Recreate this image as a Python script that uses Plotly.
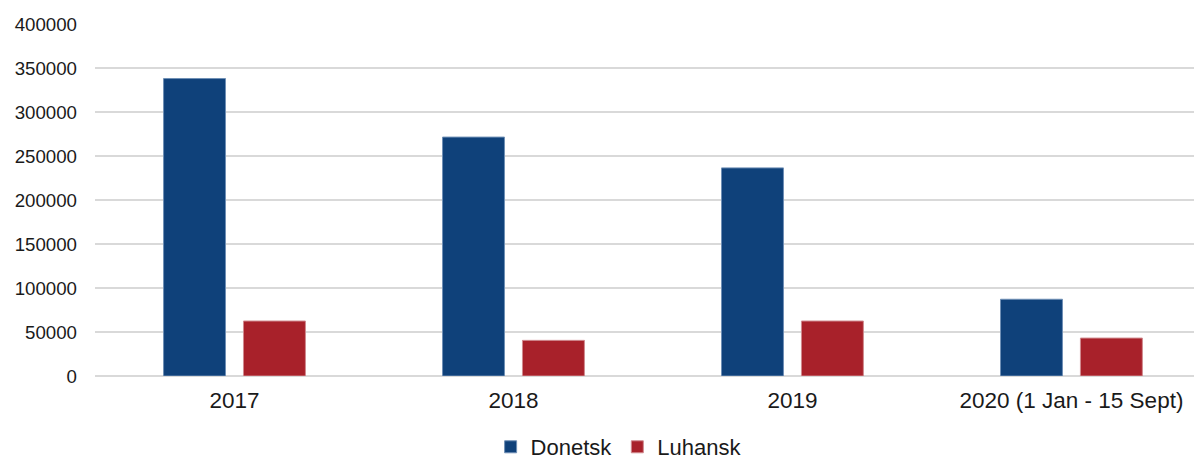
import plotly.graph_objects as go

years = ["2017", "2018", "2019", "2020 (1 Jan - 15 Sept)"]
donetsk = [338000, 271500, 236500, 87200]
luhansk = [62500, 40500, 62500, 43100]

y_ticks = [0, 50000, 100000, 150000, 200000, 250000, 300000, 350000, 400000]

fig = go.Figure()
fig.add_trace(go.Bar(x=years, y=donetsk, name="Donetsk",
                     marker=dict(color="#0F417A", line=dict(color="#6f8fb5", width=1))))
fig.add_trace(go.Bar(x=years, y=luhansk, name="Luhansk",
                     marker=dict(color="#A8212A", line=dict(color="#d08a8f", width=1))))

# page body has an 8px margin, so the figure is a bit smaller than the window
fig.update_layout(
    width=1194, height=451,
    margin=dict(l=87, r=0, t=16, b=83, autoexpand=False),
    paper_bgcolor="white", plot_bgcolor="white",
    barmode="group", bargap=0.427, bargroupgap=0.225,
    font=dict(family="Liberation Sans, Arial, sans-serif", color="#1a1a1a"),
    legend=dict(orientation="h", x=0.473, xanchor="center", y=-0.142, yanchor="top",
                font=dict(size=22), itemwidth=30, traceorder="normal"),
    showlegend=True,
)

fig.update_xaxes(range=[-0.5, 3.468], showgrid=False, showline=False, ticks="",
                 tickfont=dict(size=22.5), ticklabelstandoff=8, automargin=False)
fig.update_yaxes(range=[0, 400000], tickvals=y_ticks, ticktext=[str(v) for v in y_ticks],
                 showgrid=True, gridcolor="#D9D9D9", gridwidth=1.5,
                 zeroline=True, zerolinecolor="#D9D9D9", zerolinewidth=1.5,
                 showline=False, ticks="", tickfont=dict(size=18.7), ticklabelstandoff=17,
                 automargin=False)

fig.write_html("out.html")
